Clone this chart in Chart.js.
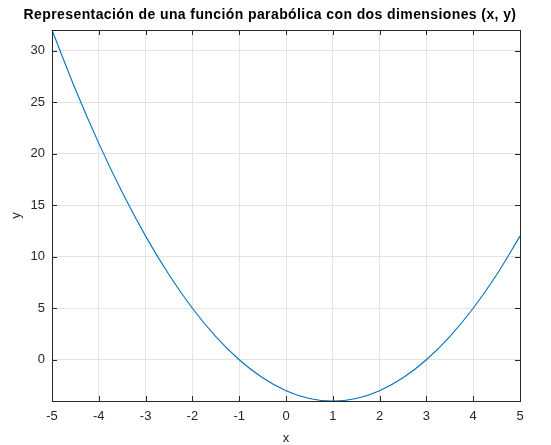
<!DOCTYPE html>
<html>
<head>
<meta charset="utf-8">
<script src="https://cdn.jsdelivr.net/npm/chart.js@4/dist/chart.umd.min.js"></script>
<style>
  html, body { margin: 0; padding: 0; background: #fff; }
  #wrap { width: 551px; height: 445px; }
</style>
</head>
<body>
<div id="wrap"><canvas id="chart" width="551" height="445"></canvas></div>
<script>
"use strict"

// values
const xValues = [-5, -4.5, -4, -3.5, -3, -2.5, -2, -1.5, -1, -0.5, 0, 0.5, 1, 1.5, 2, 2.5, 3, 3.5, 4, 4.5, 5];
const yValues = [32, 26.25, 21, 16.25, 12, 8.25, 5, 2.25, 0, -1.75, -3, -3.75, -4, -3.75, -3, -1.75, 0, 2.25, 5, 8.25, 12];
const xTicks = [-5, -4, -3, -2, -1, 0, 1, 2, 3, 4, 5];
const yTicks = [0, 5, 10, 15, 20, 25, 30];
const titleText = 'Representación de una función parabólica con dos dimensiones (x, y)';

const axisColor = '#262626';
const fontFamily = '"Liberation Sans", Arial, Helvetica, sans-serif';

// title is drawn by hand so it can sit a bit off the plot centre like the original
const titlePlugin = {
    id: 'pageTitle',
    afterDraw(chart) {
        const ctx = chart.ctx;
        ctx.save();
        ctx.font = 'bold 14px ' + fontFamily;
        ctx.letterSpacing = '0.4px';
        ctx.fillStyle = '#000';
        ctx.textAlign = 'center';
        ctx.textBaseline = 'middle';
        ctx.fillText(titleText, 270, 15);
        ctx.restore();
    }
};

// box round the axes with inward ticks on all four sides
const boxPlugin = {
    id: 'box',
    afterDatasetsDraw(chart) {
        const ctx = chart.ctx;
        const a = chart.chartArea;
        const xs = chart.scales.x;
        const ys = chart.scales.y;
        const len = 5;
        ctx.save();
        ctx.strokeStyle = axisColor;
        ctx.lineWidth = 1;
        ctx.beginPath();
        xTicks.forEach(v => {
            const px = Math.round(xs.getPixelForValue(v)) + 0.5;
            ctx.moveTo(px, a.bottom); ctx.lineTo(px, a.bottom - len);
            ctx.moveTo(px, a.top); ctx.lineTo(px, a.top + len);
        });
        yTicks.forEach(v => {
            const py = Math.round(ys.getPixelForValue(v)) + 0.5;
            ctx.moveTo(a.left, py); ctx.lineTo(a.left + len, py);
            ctx.moveTo(a.right, py); ctx.lineTo(a.right - len, py);
        });
        ctx.stroke();
        ctx.strokeRect(Math.round(a.left) + 0.5, Math.round(a.top) + 0.5,
            Math.round(a.right - a.left), Math.round(a.bottom - a.top));
        ctx.restore();
    }
};

const points = xValues.map((x, i) => ({ x: x, y: yValues[i] }));

new Chart(document.getElementById('chart'), {
    type: 'scatter',
    data: {
        datasets: [{
            data: points,
            showLine: true,
            borderColor: '#0072BD',
            borderWidth: 1.1,
            pointRadius: 0,
            cubicInterpolationMode: 'monotone',
            clip: false
        }]
    },
    options: {
        responsive: false,
        animation: false,
        layout: { padding: { left: 0, right: 31, top: 30, bottom: 0 } },
        plugins: {
            legend: { display: false },
            tooltip: { enabled: false },
            title: { display: false }
        },
        scales: {
            x: {
                type: 'linear',
                min: -5,
                max: 5,
                afterBuildTicks: s => { s.ticks = xTicks.map(v => ({ value: v })); },
                afterFit: s => { s.height = 44; },
                grid: { color: '#e3e3e3', drawTicks: false },
                border: { display: false },
                ticks: { color: axisColor, padding: 8, font: { family: fontFamily, size: 13 } },
                title: {
                    display: true, text: 'x', color: axisColor,
                    font: { family: fontFamily, size: 13 }, padding: { top: 0, bottom: -1 }
                }
            },
            y: {
                type: 'linear',
                min: -4,
                max: 32,
                afterBuildTicks: s => { s.ticks = yTicks.map(v => ({ value: v })); },
                afterFit: s => { s.width = 52; },
                grid: { color: '#e3e3e3', drawTicks: false },
                border: { display: false },
                ticks: { color: axisColor, padding: 7, font: { family: fontFamily, size: 13 } },
                title: {
                    display: true, text: 'y', color: axisColor,
                    font: { family: fontFamily, size: 13 }, padding: { top: 8.5, bottom: 0 }
                }
            }
        }
    },
    plugins: [boxPlugin, titlePlugin]
});
</script>
</body>
</html>
